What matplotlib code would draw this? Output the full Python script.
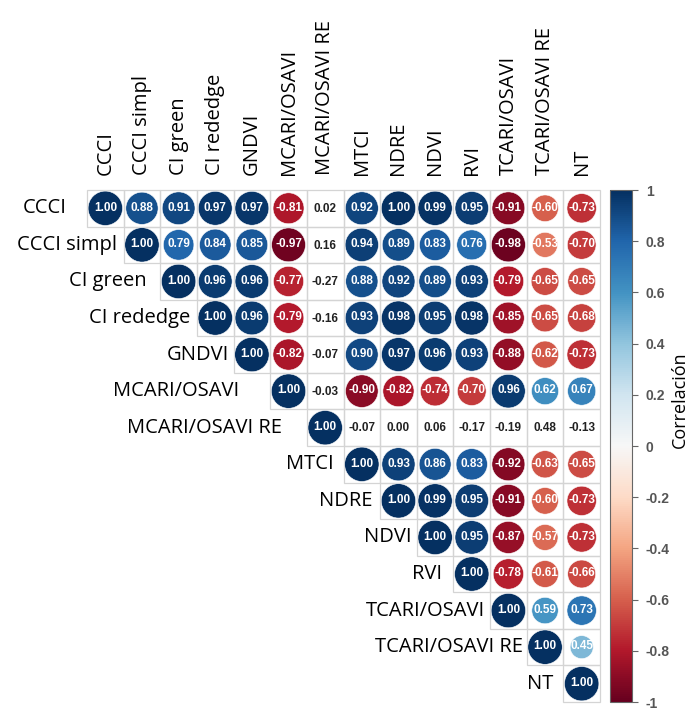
import numpy as np
import matplotlib
matplotlib.use("Agg")
import matplotlib.pyplot as plt
from matplotlib.patches import Circle, Rectangle
from matplotlib.colors import Normalize

variables = ['CCCI', 'CCCI simpl', 'CI green', 'CI rededge', 'GNDVI', 'MCARI/OSAVI',
             'MCARI/OSAVI RE', 'MTCI', 'NDRE', 'NDVI', 'RVI', 'TCARI/OSAVI',
             'TCARI/OSAVI RE', 'NT']

# triangulo superior de la matriz de correlacion, fila por fila (desde la diagonal)
corr_upper = [
    [1.00, 0.88, 0.91, 0.97, 0.97, -0.81, 0.02, 0.92, 1.00, 0.99, 0.95, -0.91, -0.60, -0.73],
    [1.00, 0.79, 0.84, 0.85, -0.97, 0.16, 0.94, 0.89, 0.83, 0.76, -0.98, -0.53, -0.70],
    [1.00, 0.96, 0.96, -0.77, -0.27, 0.88, 0.92, 0.89, 0.93, -0.79, -0.65, -0.65],
    [1.00, 0.96, -0.79, -0.16, 0.93, 0.98, 0.95, 0.98, -0.85, -0.65, -0.68],
    [1.00, -0.82, -0.07, 0.90, 0.97, 0.96, 0.93, -0.88, -0.62, -0.73],
    [1.00, -0.03, -0.90, -0.82, -0.74, -0.70, 0.96, 0.62, 0.67],
    [1.00, -0.07, 0.00, 0.06, -0.17, -0.19, 0.48, -0.13],
    [1.00, 0.93, 0.86, 0.83, -0.92, -0.63, -0.65],
    [1.00, 0.99, 0.95, -0.91, -0.60, -0.73],
    [1.00, 0.95, -0.87, -0.57, -0.73],
    [1.00, -0.78, -0.61, -0.66],
    [1.00, 0.59, 0.73],
    [1.00, 0.45],
    [1.00],
]

# pares no significativos (sin circulo, solo el valor)
no_sig = [('CCCI', 'MCARI/OSAVI RE'), ('CCCI simpl', 'MCARI/OSAVI RE'),
          ('CI green', 'MCARI/OSAVI RE'), ('CI rededge', 'MCARI/OSAVI RE'),
          ('GNDVI', 'MCARI/OSAVI RE'), ('MCARI/OSAVI', 'MCARI/OSAVI RE'),
          ('MCARI/OSAVI RE', 'MTCI'), ('MCARI/OSAVI RE', 'NDRE'),
          ('MCARI/OSAVI RE', 'NDVI'), ('MCARI/OSAVI RE', 'RVI'),
          ('MCARI/OSAVI RE', 'TCARI/OSAVI'), ('MCARI/OSAVI RE', 'TCARI/OSAVI RE'),
          ('MCARI/OSAVI RE', 'NT')]

cbar_ticks = [1, 0.8, 0.6, 0.4, 0.2, 0, -0.2, -0.4, -0.6, -0.8, -1]

# separacion (px) entre cada etiqueta de fila y su primera celda
label_gap = [20, 7, 14, 7, 5, 31, 25, 10, 8, 5, 11, 5, 4, 10]

n = len(variables)
W, H = 694, 711
fig = plt.figure(figsize=(W / 100, H / 100), dpi=100)

gx0, gx1, gy0, gy1 = 87, 600, 190, 702
ax = fig.add_axes([gx0 / W, 1 - gy1 / H, (gx1 - gx0) / W, (gy1 - gy0) / H])
ax.set_xlim(0, n)
ax.set_ylim(n, 0)
ax.axis('off')
cell_px = (gx1 - gx0) / n

cmap = plt.get_cmap('RdBu')
norm = Normalize(-1, 1)
idx = {v: k for k, v in enumerate(variables)}
blank = {(idx[a], idx[b]) for a, b in no_sig}

for i, row in enumerate(corr_upper):
    for k, r in enumerate(row):
        j = i + k
        ax.add_patch(Rectangle((j, i), 1, 1, facecolor='none', edgecolor='#d4d4d4',
                               lw=0.9, clip_on=False))
        if (i, j) in blank:
            ax.text(j + 0.5, i + 0.52, f'{r:.2f}', ha='center', va='center',
                    fontsize=8.5, fontweight='bold', color='#222222',
                    family='Liberation Sans')
            continue
        ax.add_patch(Circle((j + 0.5, i + 0.5), 0.47 * np.sqrt(abs(r)),
                            facecolor=cmap(norm(r)), edgecolor='white', lw=0.4))
        ax.text(j + 0.5, i + 0.48, f'{r:.2f}', ha='center', va='center',
                fontsize=8.5, fontweight='bold', color='white',
                family='Liberation Sans')

# etiquetas de filas y columnas
for i, name in enumerate(variables):
    ax.text(i - label_gap[i] / cell_px, i + 0.5, name, ha='right', va='center',
            fontsize=14.5, family='Open Sans', color='black')
    ax.text(i + 0.5, -0.41, name, ha='center', va='bottom', rotation=90,
            fontsize=14.5, family='Open Sans', color='black')

# barra de color
cax = fig.add_axes([610 / W, 1 - gy1 / H, 22 / W, (gy1 - gy0) / H])
sm = matplotlib.cm.ScalarMappable(norm=norm, cmap=cmap)
cb = fig.colorbar(sm, cax=cax, ticks=cbar_ticks)
cb.ax.set_yticklabels([f'{t:g}' for t in cbar_ticks])
cb.ax.tick_params(length=4, width=0.8, color='#666666', labelcolor='#555555',
                  labelsize=10, pad=6)
for lab in cb.ax.get_yticklabels():
    lab.set_fontweight('bold')
    lab.set_family('Liberation Sans')
cb.outline.set_edgecolor('#666666')
cb.outline.set_linewidth(0.8)
fig.text(680 / W, 1 - 400 / H, 'Correlación', rotation=90, ha='center', va='center',
         fontsize=13, family='Open Sans', color='black')

fig.savefig('out.png', dpi=100, facecolor='white')
